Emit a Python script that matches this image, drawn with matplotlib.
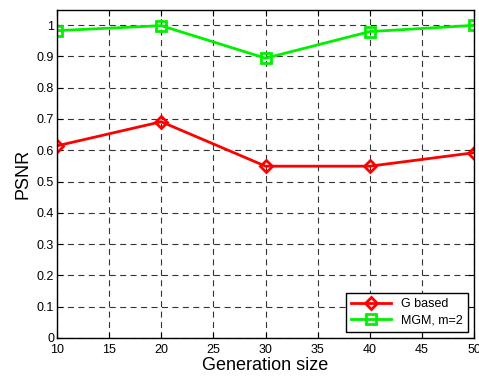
import matplotlib.pyplot as plt
import numpy as np

plt.rcParams['font.family'] = ['Liberation Sans', 'DejaVu Sans']

# generation sizes and PSNR values for each scheme
gen_size = [10, 20, 30, 40, 50]
psnr_g = [0.614, 0.691, 0.549, 0.549, 0.592]
psnr_mgm = [0.982, 0.998, 0.894, 0.979, 0.999]
x_ticks = [10, 15, 20, 25, 30, 35, 40, 45, 50]
y_ticks = [0, 0.1, 0.2, 0.3, 0.4, 0.5, 0.6, 0.7, 0.8, 0.9, 1]
y_labels = ['0', '0.1', '0.2', '0.3', '0.4', '0.5', '0.6', '0.7', '0.8', '0.9', '1']

fig = plt.figure(figsize=(4.79, 3.81), dpi=100)
ax = fig.add_axes([57 / 479, 1 - 338 / 381, (474 - 57) / 479, (338 - 10) / 381])

ax.plot(gen_size, psnr_g, color='red', lw=2, marker='D', ms=6.5, mfc='none',
        mec='red', mew=2, label='G based')
ax.plot(gen_size, psnr_mgm, color='#00f000', lw=2, marker='s', ms=6.5, mfc='none',
        mec='#00f000', mew=2, label='MGM, m=2')

ax.set_xlim(10, 50)
ax.set_ylim(0, 1.048)
ax.set_xticks(x_ticks)
ax.set_yticks(y_ticks)
ax.set_yticklabels(y_labels)
ax.tick_params(direction='in', top=True, right=True, labelsize=9, length=4)
ax.tick_params(axis='x', pad=4)
ax.tick_params(axis='y', pad=2)
ax.grid(True, color='#333333', ls=(0, (5.4, 4)), lw=0.8)
for s in ax.spines.values():
    s.set_linewidth(1)

ax.set_xlabel('Generation size', fontsize=13, labelpad=1)
ax.set_ylabel('PSNR', fontsize=13, labelpad=4)

leg = ax.legend(loc='lower right', fontsize=9, fancybox=False, framealpha=1,
                edgecolor='black', handlelength=3.2, borderaxespad=0.5,
                borderpad=0.4, labelspacing=0.35)
leg.get_frame().set_linewidth(1)

fig.savefig('out.png', dpi=100)
